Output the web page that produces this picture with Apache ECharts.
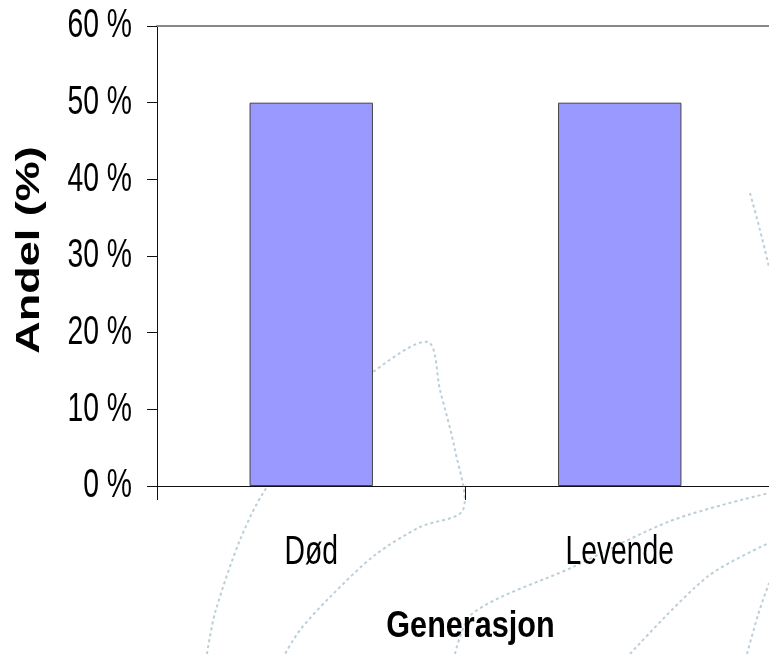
<!DOCTYPE html>
<html><head><meta charset="utf-8">
<script src="https://cdn.jsdelivr.net/npm/echarts@6/dist/echarts.min.js"></script>
<style>html,body{margin:0;padding:0;background:#fff}#c{width:769px;height:654px}</style>
</head><body><div id="c"></div>
<script>
const categories = ["Død", "Levende"];
const values = [50, 50];
const yTicks = [0, 10, 20, 30, 40, 50, 60];
const yTickLabels = ["0 %", "10 %", "20 %", "30 %", "40 %", "50 %", "60 %"];
const xTitle = "Generasjon";
const yTitle = "Andel (%)";

const FONT = "'Liberation Sans', Arial, sans-serif";
const chart = echarts.init(document.getElementById('c'));
const option = {
  animation: false,
  backgroundColor: '#ffffff',
  grid: { left: 157, top: 26, right: -5, bottom: 168, outerBoundsMode: 'none', containLabel: false },
  xAxis: [{
    type: 'category', data: categories,
    axisLine: { lineStyle: { color: '#111', width: 1 } },
    axisTick: { show: true, length: 14, lineStyle: { color: '#111' } },
    axisLabel: { show: false },
    splitLine: { show: false }
  }, {
    type: 'category', data: categories, position: 'top',
    axisLine: { lineStyle: { color: '#888', width: 2 } },
    axisTick: { show: false }, axisLabel: { show: false }, splitLine: { show: false }
  }],
  yAxis: {
    type: 'value', min: yTicks[0], max: yTicks[yTicks.length - 1], interval: 10,
    axisLine: { show: true, lineStyle: { color: '#111', width: 1 } },
    axisTick: { show: true, length: 10, lineStyle: { color: '#111' } },
    axisLabel: { show: false },
    splitLine: { show: false }
  },
  series: [{
    type: 'bar', data: values, barWidth: '40%', xAxisIndex: 0, z: 3,
    itemStyle: { color: '#9999FF', borderColor: '#444', borderWidth: 1 }
  }]
};
chart.setOption(option);

// Watermark-like dashed decorative curves from the reference background
const wm = { stroke: '#bccfd9', lineWidth: 2, lineDash: [3, 3], fill: null };
const decor = [
  [[207,654],[215,613],[240,540],[265,490],[320,420],[373,372],[428,342],[440,390],[455,450],[463,510],[420,527],[375,555],[330,597],[300,630],[285,654]],
  [[455,654],[473,613],[573,567],[673,520],[769,493]],
  [[630,654],[707,577],[769,543]],
  [[747,654],[758,615],[769,583]],
  [[750,193],[760,230],[769,267]]
];
const graphics = decor.map(pts => ({
  type: 'polyline', z: 0, silent: true,
  shape: { points: pts, smooth: 0.3 }, style: wm
}));

// Condensed text labels (reference uses a narrow font)
const sx = 0.69;
yTicks.forEach((v, i) => {
  const py = chart.convertToPixel({ yAxisIndex: 0 }, v);
  graphics.push({ type: 'text', x: 132, y: py, scaleX: sx, z: 10,
    style: { text: yTickLabels[i], font: '41px ' + FONT, fill: '#000', align: 'right', verticalAlign: 'middle' } });
});
categories.forEach((c, i) => {
  const px = chart.convertToPixel({ xAxisIndex: 0 }, i);
  graphics.push({ type: 'text', x: px, y: 553, scaleX: sx, z: 10,
    style: { text: c, font: '41px ' + FONT, fill: '#000', align: 'center', verticalAlign: 'middle' } });
});
const gx0 = chart.convertToPixel({ xAxisIndex: 0 }, 0);
const gx1 = chart.convertToPixel({ xAxisIndex: 0 }, 1);
graphics.push({ type: 'text', x: (gx0 + gx1) / 2 + 5, y: 627, scaleX: 0.85, z: 10,
  style: { text: xTitle, font: 'bold 36px ' + FONT, fill: '#000', align: 'center', verticalAlign: 'middle' } });
const ym = (chart.convertToPixel({ yAxisIndex: 0 }, yTicks[0]) + chart.convertToPixel({ yAxisIndex: 0 }, yTicks[yTicks.length - 1])) / 2;
graphics.push({ type: 'text', x: 30, y: ym - 6, rotation: Math.PI / 2, scaleY: 0.75, z: 10,
  style: { text: yTitle, font: 'bold 45px ' + FONT, fill: '#000', align: 'center', verticalAlign: 'middle' } });

chart.setOption({ graphic: { elements: graphics } });
</script></body></html>
